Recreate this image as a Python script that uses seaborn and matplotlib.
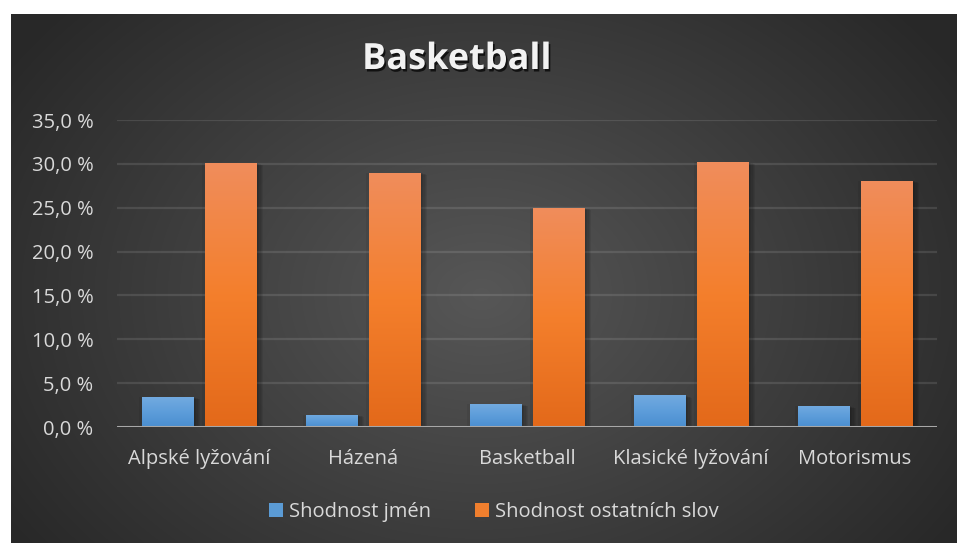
import numpy as np
import pandas as pd
import matplotlib
matplotlib.use("Agg")
import matplotlib.pyplot as plt
import matplotlib.patheffects as pe
from matplotlib.patches import Patch
from matplotlib.colors import LinearSegmentedColormap
import seaborn as sns

# ---- data ----
categories = ["Alpské lyžování", "Házená", "Basketball", "Klasické lyžování", "Motorismus"]
series_names = ["Shodnost jmén", "Shodnost ostatních slov"]
shodnost_jmen = [3.4, 1.4, 2.6, 3.6, 2.4]
shodnost_ostatnich = [30.1, 29.0, 25.0, 30.2, 28.1]
y_ticks = [0, 5, 10, 15, 20, 25, 30, 35]
y_tick_labels = ["0,0 %", "5,0 %", "10,0 %", "15,0 %", "20,0 %", "25,0 %", "30,0 %", "35,0 %"]
title = "Basketball"

df = pd.DataFrame({
    "kategorie": categories * 2,
    "serie": [series_names[0]] * len(categories) + [series_names[1]] * len(categories),
    "hodnota": shodnost_jmen + shodnost_ostatnich,
})

sns.set_theme(style="dark")
plt.rcParams["font.family"] = ["Open Sans", "DejaVu Sans"]

W, H = 957, 543
fig = plt.figure(figsize=(W / 100, H / 100), dpi=100)
fig.patch.set_facecolor("white")

# ---- radial gradient background ----
bg = fig.add_axes([11 / W, 0, (W - 11) / W, (H - 14) / H], zorder=-10)
yy, xx = np.mgrid[0:529, 0:946]
cx, cy = 470, 280
r = np.sqrt(((xx - cx) / 560.0) ** 2 + ((yy - cy) / 420.0) ** 2)
r = np.clip(r, 0, 1)
c_in, c_out = np.array([0.34, 0.34, 0.34]), np.array([0.16, 0.16, 0.16])
img = c_in[None, None, :] * (1 - r[..., None]) + c_out[None, None, :] * r[..., None]
bg.imshow(img, aspect="auto", interpolation="bilinear")
bg.set_axis_off()

# ---- main axes ----
ax = fig.add_axes([117 / W, 1 - 427 / H, 820 / W, (427 - 120) / H])
ax.set_facecolor("none")
palette = {series_names[0]: "#5B9BD5", series_names[1]: "#ED7D31"}
sns.barplot(data=df, x="kategorie", y="hodnota", hue="serie", palette=palette,
            width=0.768, gap=0.175, ax=ax, legend=False, saturation=1,
            edgecolor="none", linewidth=0, zorder=3)

ax.set_ylim(0, 35)
ax.set_xlim(-0.5, len(categories) - 0.5)
ax.set_yticks(y_ticks)
ax.set_yticklabels(y_tick_labels)
ax.set_xlabel("")
ax.set_ylabel("")
txt_col = "#d9d9d9"
ax.tick_params(axis="y", colors=txt_col, labelsize=14.5, length=0, pad=17)
ax.tick_params(axis="x", colors=txt_col, labelsize=14.5, length=0, pad=16)
for s in ax.spines.values():
    s.set_visible(False)
ax.grid(False)
for v in y_ticks[1:]:
    ax.axhline(v, color="#ffffff", alpha=0.11, lw=1.6, zorder=1)
ax.axhline(0, color="#a8a8a8", lw=2.2, zorder=5)

# gradient fills on bars
cmaps = {
    "#5B9BD5": LinearSegmentedColormap.from_list("b", ["#4a8ed0", "#5d9dda", "#72aae0"]),
    "#ED7D31": LinearSegmentedColormap.from_list("o", ["#e3691a", "#f47f2c", "#f08d5c"]),
}
grad = np.linspace(0, 1, 256).reshape(-1, 1)
for p in list(ax.patches):
    fc = matplotlib.colors.to_hex(p.get_facecolor()).upper()
    key = "#5B9BD5" if fc.startswith("#5B") else "#ED7D31"
    x0, y0 = p.get_x(), p.get_y()
    w, h = p.get_width(), p.get_height()
    p.set_path_effects([
        pe.SimplePatchShadow(offset=(d, -d * 0.3), shadow_rgbFace="black", alpha=0.07)
        for d in (1, 2, 3, 4, 5)
    ] + [pe.SimplePatchShadow(offset=(-2, 0), shadow_rgbFace="black", alpha=0.06), pe.Normal()])
    im = ax.imshow(grad, cmap=cmaps[key], extent=(x0, x0 + w, y0, y0 + h),
                   origin="lower", aspect="auto", zorder=4, interpolation="bilinear")
    im.set_clip_path(p)
ax.set_xlim(-0.5, len(categories) - 0.5)
ax.set_ylim(0, 35)

# ---- title ----
fig.text(457 / W, 1 - 60 / H, title, ha="center", va="center", fontsize=26,
         fontweight="bold", color="#f2f2f2",
         path_effects=[pe.withSimplePatchShadow(offset=(1.2, -1.8), shadow_rgbFace="black", alpha=0.7)])

# ---- legend ----
handles = [Patch(facecolor="#5B9BD5", edgecolor="none"), Patch(facecolor="#F07F2E", edgecolor="none")]
leg = fig.legend(handles, series_names, loc="center", bbox_to_anchor=(494 / W, 1 - 512 / H),
                 ncol=2, frameon=False, fontsize=14.5, handlelength=0.7, handleheight=0.7,
                 handletextpad=0.3, columnspacing=2.2, labelcolor=txt_col)

fig.savefig("out.png", dpi=100, facecolor="white")
